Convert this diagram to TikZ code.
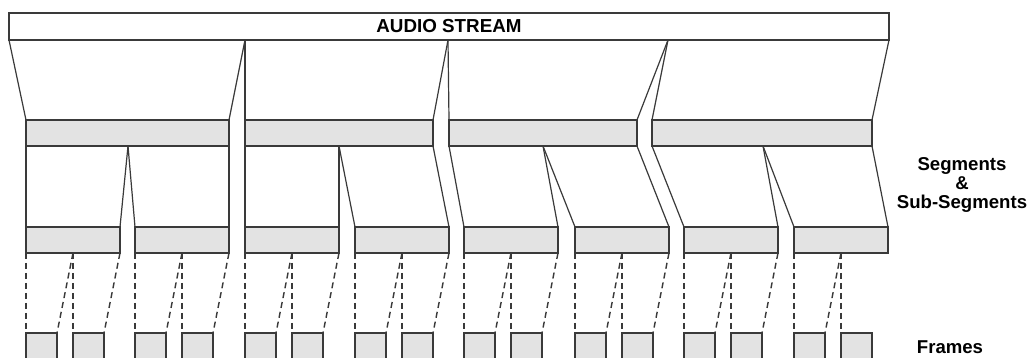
\documentclass[tikz,border=0pt]{standalone}
\usepackage{fontspec}
\setmainfont{Liberation Sans}
\definecolor{lc}{HTML}{3A3A3A}
\definecolor{segfill}{HTML}{E3E3E3}
\tikzset{
  box/.style={draw=lc, fill=segfill, line width=1.2pt, inner sep=0pt, outer sep=0pt, anchor=north west, minimum height=26pt},
  streambox/.style={box, fill=white, minimum height=27pt, font=\bfseries\fontsize{18.8}{19}\selectfont},
  framebox/.style={box, minimum width=31pt, minimum height=45pt},
  conn/.style={draw=lc, line width=1.2pt},
  dconn/.style={draw=lc, line width=1.4pt, dash pattern=on 6pt off 4pt},
  lbl/.style={font=\bfseries\fontsize{18.6}{19}\selectfont, align=center, inner sep=0pt}
}
\begin{document}
\begin{tikzpicture}[x=1pt,y=-1pt]
\clip (0,0) rectangle (1029,358);
\fill[white] (0,0) rectangle (1029,358);
% audio stream
\node[streambox, minimum width=880pt] (stream) at (9,13) {AUDIO STREAM};
% segments
\node[box, minimum width=203pt] (s1) at (26,120) {};
\node[box, minimum width=188pt] (s2) at (245,120) {};
\node[box, minimum width=188pt] (s3) at (449,120) {};
\node[box, minimum width=220pt] (s4) at (652,120) {};
% division points on the stream
\coordinate (d1) at (245,40);
\coordinate (d2) at (448,40);
\coordinate (d3) at (668,40);
\draw[conn] (stream.south west) -- (s1.north west);
\draw[conn] (d1) -- (s1.north east);
\draw[conn] (d1) -- (s2.north west);
\draw[conn] (d2) -- (s2.north east);
\draw[conn] (d2) -- (s3.north west);
\draw[conn] (d3) -- (s3.north east);
\draw[conn] (d3) -- (s4.north west);
\draw[conn] (stream.south east) -- (s4.north east);
% sub-segments and frames
\foreach \i/\L in {1/26,2/135,3/245,4/355,5/464,6/575,7/684,8/794}{
  \node[box, minimum width=94pt] (ss\i) at (\L,227) {};
  \node[framebox] (f\i a) at (\L,333) {};
  \node[framebox] (f\i b) at (\L+47,333) {};
  \coordinate (m\i) at (\L+47,253);
  \draw[dconn] (ss\i.south west) -- (f\i a.north west);
  \draw[dconn] (m\i) -- (f\i a.north east);
  \draw[dconn] (m\i) -- (f\i b.north west);
}
\foreach \i in {1,...,7}{
  \draw[dconn] (ss\i.south east) -- (f\i b.north east);
}
% segment division points
\coordinate (e1) at (128,146);
\coordinate (e2) at (339,146);
\coordinate (e3) at (543,146);
\coordinate (e4) at (763,146);
\draw[conn] (s1.south west) -- (ss1.north west);
\draw[conn] (e1) -- (ss1.north east);
\draw[conn] (e1) -- (ss2.north west);
\draw[conn] (s1.south east) -- (ss2.north east);
\draw[conn] (s2.south west) -- (ss3.north west);
\draw[conn] (e2) -- (ss3.north east);
\draw[conn] (e2) -- (ss4.north west);
\draw[conn] (s2.south east) -- (ss4.north east);
\draw[conn] (s3.south west) -- (ss5.north west);
\draw[conn] (e3) -- (ss5.north east);
\draw[conn] (e3) -- (ss6.north west);
\draw[conn] (s3.south east) -- (ss6.north east);
\draw[conn] (s4.south west) -- (ss7.north west);
\draw[conn] (e4) -- (ss7.north east);
\draw[conn] (e4) -- (ss8.north west);
\draw[conn] (s4.south east) -- (ss8.north east);
% labels
\node[lbl] (seglbl) at (962,185) {Segments\\[0pt]\&\\[0pt]Sub-Segments};
\node[lbl] (frlbl) at (950,347) {Frames};
\end{tikzpicture}
\end{document}
